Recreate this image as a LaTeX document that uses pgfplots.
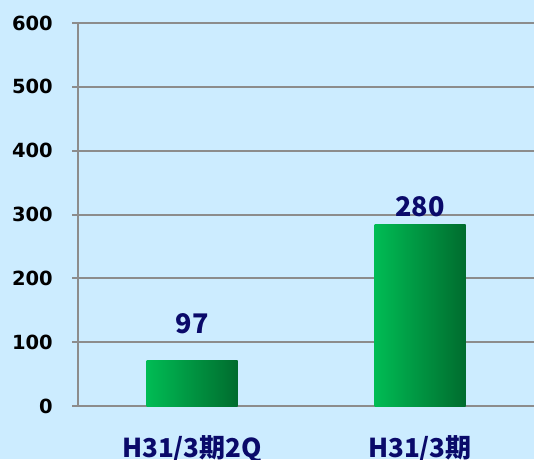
\documentclass[border=0pt]{standalone}
\usepackage{pgfplots}
\pgfplotsset{compat=1.18}
\usepackage{fontspec}
\setmainfont{DejaVu Sans}
\newfontfamily\jpfont{Noto Sans CJK JP}
\definecolor{bgblue}{RGB}{204,236,255}
\definecolor{gridgray}{RGB}{140,140,140}
\definecolor{barL}{RGB}{0,188,84}
\definecolor{barR}{RGB}{0,108,46}
\definecolor{navy}{RGB}{10,10,106}
\begin{document}
\begin{tikzpicture}
\useasboundingbox (0,0) rectangle (534pt,459pt);
\fill[bgblue] (0,0) rectangle (534pt,459pt);
\begin{axis}[
  at={(78pt,53pt)}, anchor=south west,
  scale only axis, width=456pt, height=383pt,
  xmin=-0.5, xmax=1.5, ymin=0, ymax=600,
  ytick={0,100,...,600},
  xtick={0,1},
  xticklabels={H31/3期2Q, H31/3期},
  axis lines*=left,
  axis line style={gridgray, line width=2pt},
  ymajorgrids, grid style={gridgray, line width=2pt},
  tick align=outside,
  ytick style={gridgray, line width=2pt},
  major tick length=6pt,
  xtick style={draw=none},
  /pgf/number format/assume math mode=true,
  yticklabel style={font=\bfseries\fontsize{19.5}{19.5}\selectfont, anchor=east, inner sep=0pt, xshift=-19pt},
  xticklabel style={font=\jpfont\bfseries\fontsize{26}{26}\selectfont, text=navy, anchor=base, inner sep=0pt, yshift=-45pt},
  clip=false,
]
% bars as drawn in the reference
\addplot[ybar, bar width=91pt, bar shift=0pt, draw=none, left color=barL, right color=barR] coordinates {(0,72)};
\addplot[ybar, bar width=91pt, bar shift=0pt, draw=none, left color=barL, right color=barR] coordinates {(1,285)};
% value labels
\addplot[draw=none, mark=none, nodes near coords,
  nodes near coords style={font=\jpfont\bfseries\fontsize{27}{27}\selectfont, text=navy, anchor=south, inner sep=0pt, yshift=10pt}]
  coordinates {(0,97) (1,280)};
\end{axis}
\end{tikzpicture}
\end{document}
